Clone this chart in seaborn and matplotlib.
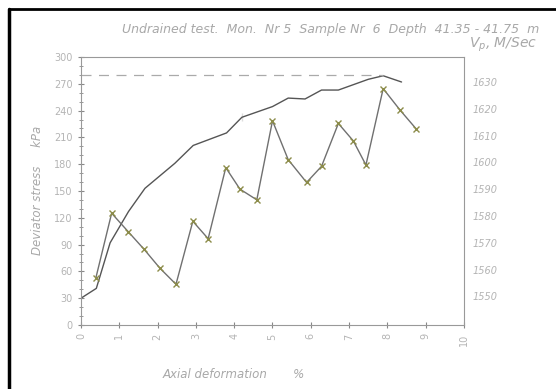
import matplotlib
matplotlib.use("Agg")
import matplotlib.pyplot as plt
import seaborn as sns
import pandas as pd
from matplotlib.lines import Line2D
from matplotlib.ticker import MultipleLocator

# deviator stress curve (kPa) vs axial deformation (%)
stress_x = [0.0, 0.4, 0.76, 1.24, 1.67, 2.45, 2.93, 3.8, 4.2, 4.2, 5.0, 5.41, 5.85, 6.28, 6.72, 7.5, 7.89, 8.37]
stress_y = [30, 41, 92, 127, 153, 181, 201, 215, 228, 237, 244.5, 254, 253, 263, 263, 275, 279, 272]

# P-wave velocity (m/s) vs axial deformation (%)
vp_x = [0.39, 0.8, 1.24, 1.65, 2.06, 2.48, 2.92, 3.32, 3.78, 4.15, 4.59, 5.0, 5.41, 5.89, 6.28, 6.72, 7.11, 7.44, 7.89, 8.33, 8.75]
vp_y = [1557, 1581, 1574, 1567.5, 1560.5, 1554.5, 1578, 1571.5, 1598, 1590, 1586, 1615.5, 1601, 1592.5, 1598.5, 1614.5, 1608, 1599, 1627.5, 1619.5, 1612.5]

peak_stress = 280
vp_ticks = [1550, 1560, 1570, 1580, 1590, 1600, 1610, 1620, 1630]

sns.set_style("white")
txt = "#a8a8a8"
tick_txt = "#b4b4b4"
fig = plt.figure(figsize=(5.56, 3.89), dpi=100)
ax = fig.add_axes([0.1457, 0.1645, 0.6888, 0.689])

stress_df = pd.DataFrame({"x": stress_x, "y": stress_y})
vp_df = pd.DataFrame({"x": vp_x, "y": vp_y})

sns.lineplot(data=stress_df, x="x", y="y", ax=ax, color="#555555", linewidth=1.0, sort=False)
ax.plot([0, 7.89], [peak_stress, peak_stress], color="#aaaaaa", linestyle=(0, (8, 6)), linewidth=0.9)

ax.set_xlim(0, 10)
ax.set_ylim(0, 300)
ax.xaxis.set_major_locator(MultipleLocator(1))
ax.yaxis.set_major_locator(MultipleLocator(30))
ax.yaxis.set_minor_locator(MultipleLocator(10))
ax.tick_params(axis="both", which="both", direction="inout", color="#888888", labelcolor=tick_txt, labelsize=7)
ax.tick_params(axis="y", which="major", length=5, left=True)
ax.tick_params(axis="y", which="minor", length=3, left=True)
ax.tick_params(axis="x", which="major", length=5, bottom=True, labelrotation=90)
for s in ax.spines.values():
    s.set_color("#999999")
    s.set_linewidth(0.8)
ax.set_xlabel("")
ax.set_ylabel("")

ax2 = ax.twinx()
sns.lineplot(data=vp_df, x="x", y="y", ax=ax2, color="#707070", linewidth=1.0, sort=False,
             marker="x", markersize=5, markeredgecolor="#8c8c4a", markeredgewidth=1.0)
ax2.set_ylim(1539.3, 1639.3)
ax2.set_yticks(vp_ticks)
ax2.tick_params(axis="y", length=0, pad=6, labelcolor=tick_txt, labelsize=7)
for lbl in ax2.get_yticklabels():
    lbl.set_style("italic")
ax2.set_ylabel("")
for s in ax2.spines.values():
    s.set_visible(False)

fig.text(0.594, 0.923, "Undrained test.  Mon.  Nr 5  Sample Nr  6  Depth  41.35 - 41.75  m",
         ha="center", va="center", fontsize=9, style="italic", color=txt)
fig.text(0.905, 0.885, r"$V_p$, M/Sec", ha="center", va="center", fontsize=10, style="italic", color=txt)
fig.text(0.068, 0.51, "Deviator stress     kPa", ha="center", va="center", rotation=90,
         fontsize=8.5, style="italic", color=txt)
fig.text(0.42, 0.036, "Axial deformation       %", ha="center", va="center",
         fontsize=8.5, style="italic", color=txt)

# scan frame: left and top edges
fig.add_artist(Line2D([0.016, 0.016], [0, 0.976], transform=fig.transFigure, color="black", linewidth=2.5))
fig.add_artist(Line2D([0.016, 1.0], [0.976, 0.976], transform=fig.transFigure, color="black", linewidth=2.0))

fig.savefig("out.png", dpi=100)
